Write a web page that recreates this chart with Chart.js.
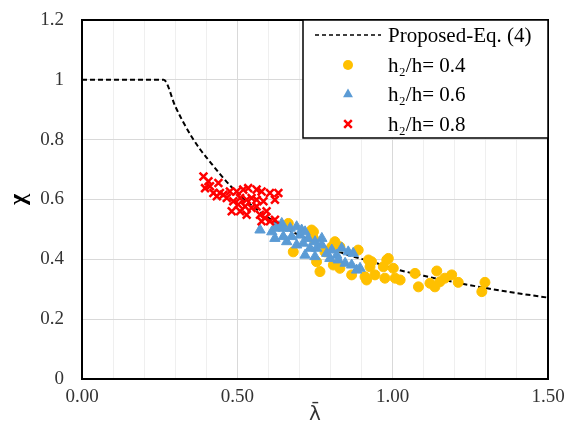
<!DOCTYPE html>
<html>
<head>
<meta charset="utf-8">
<script src="https://cdn.jsdelivr.net/npm/chart.js@4/dist/chart.umd.min.js"></script>
<style>
  body { margin: 0; background: #fff; }
  canvas { display: block; }
</style>
</head>
<body>
<canvas id="chart" width="569" height="442"></canvas>
<script>
// values (lambda, chi)
const curveLambda = [0, 0.263, 0.30, 0.322, 0.354, 0.38, 0.409, 0.445, 0.483, 0.55, 0.637, 0.75, 0.85, 0.949, 1.0, 1.1, 1.217, 1.35, 1.5];
const curveChi    = [1, 1, 0.912, 0.866, 0.808, 0.768, 0.730, 0.684, 0.640, 0.577, 0.515, 0.457, 0.417, 0.387, 0.370, 0.345, 0.320, 0.295, 0.272];

const h04Lambda = [0.664, 0.680, 0.739, 0.745, 0.745, 0.755, 0.766, 0.782, 0.804, 0.809, 0.814, 0.830, 0.830, 0.868, 0.889, 0.911, 0.916, 0.922, 0.927, 0.932, 0.943, 0.970, 0.975, 0.981, 0.986, 1.002, 1.008, 1.024, 1.072, 1.083, 1.120, 1.136, 1.142, 1.152, 1.168, 1.190, 1.211, 1.297, 1.287];
const h04Chi    = [0.520, 0.425, 0.498, 0.470, 0.492, 0.392, 0.359, 0.425, 0.442, 0.381, 0.459, 0.442, 0.370, 0.348, 0.431, 0.342, 0.331, 0.398, 0.375, 0.392, 0.348, 0.375, 0.337, 0.398, 0.403, 0.370, 0.337, 0.331, 0.353, 0.308, 0.320, 0.308, 0.361, 0.325, 0.337, 0.348, 0.323, 0.323, 0.292];

const h06Lambda = [0.573, 0.611, 0.632, 0.643, 0.621, 0.648, 0.659, 0.670, 0.691, 0.707, 0.702, 0.718, 0.691, 0.712, 0.728, 0.750, 0.772, 0.755, 0.772, 0.718, 0.750, 0.788, 0.804, 0.820, 0.836, 0.857, 0.825, 0.847, 0.868, 0.873, 0.884, 0.895, 0.798, 0.734, 0.675, 0.648, 0.621];
const h06Chi    = [0.498, 0.492, 0.509, 0.520, 0.470, 0.476, 0.459, 0.504, 0.509, 0.498, 0.481, 0.492, 0.448, 0.454, 0.470, 0.459, 0.470, 0.437, 0.448, 0.414, 0.409, 0.420, 0.431, 0.414, 0.437, 0.425, 0.398, 0.387, 0.381, 0.420, 0.364, 0.370, 0.403, 0.437, 0.476, 0.504, 0.504];

const h08Lambda = [0.391, 0.407, 0.439, 0.396, 0.412, 0.455, 0.444, 0.476, 0.498, 0.519, 0.535, 0.562, 0.578, 0.605, 0.632, 0.621, 0.509, 0.530, 0.546, 0.487, 0.503, 0.525, 0.546, 0.562, 0.482, 0.509, 0.530, 0.573, 0.589, 0.605, 0.621, 0.578, 0.594, 0.466, 0.434, 0.423, 0.562, 0.584];
const h08Chi    = [0.677, 0.661, 0.655, 0.638, 0.644, 0.616, 0.622, 0.627, 0.627, 0.633, 0.638, 0.633, 0.627, 0.622, 0.622, 0.599, 0.605, 0.599, 0.605, 0.594, 0.583, 0.577, 0.572, 0.577, 0.561, 0.561, 0.549, 0.549, 0.538, 0.527, 0.532, 0.527, 0.561, 0.605, 0.611, 0.622, 0.599, 0.594];

const xTicks = [0, 0.5, 1.0, 1.5];

function pts(xs, ys) {
    return xs.map((x, i) => ({ x: x, y: ys[i] }));
}

const serif = '"Liberation Serif", "Times New Roman", serif';

// frame round the plot and legend box inside it
const framePlugin = {
    id: 'frame',
    afterDraw(chart) {
        const ctx = chart.ctx;
        const a = chart.chartArea;
        ctx.save();
        ctx.strokeStyle = '#000';
        ctx.lineWidth = 2;
        ctx.strokeRect(a.left, a.top, a.right - a.left, a.bottom - a.top);

        // legend
        const bx = 303, by = a.top, bw = a.right - 303, bh = 118;
        ctx.fillStyle = '#fff';
        ctx.fillRect(bx, by, bw, bh);
        ctx.lineWidth = 1.5;
        ctx.strokeRect(bx, by, bw, bh);

        const ds = chart.data.datasets;
        const rows = [35, 65, 94, 124];
        const mx = 348;
        ctx.font = '21px ' + serif;
        ctx.textBaseline = 'middle';
        ctx.textAlign = 'left';
        ds.forEach((d, i) => {
            const y = rows[i];
            if (d.type === 'line') {
                ctx.strokeStyle = d.borderColor;
                ctx.lineWidth = 1.6;
                ctx.setLineDash([4, 3]);
                ctx.beginPath();
                ctx.moveTo(315, y);
                ctx.lineTo(381, y);
                ctx.stroke();
                ctx.setLineDash([]);
            } else {
                ctx.fillStyle = d.backgroundColor;
                ctx.strokeStyle = d.borderColor;
                ctx.beginPath();
                if (d.pointStyle === 'circle') {
                    ctx.arc(mx, y, 5, 0, Math.PI * 2);
                    ctx.fill();
                } else if (d.pointStyle === 'triangle') {
                    const r = 5.5;
                    ctx.moveTo(mx, y - r);
                    ctx.lineTo(mx + r * 0.9, y + r * 0.6);
                    ctx.lineTo(mx - r * 0.9, y + r * 0.6);
                    ctx.closePath();
                    ctx.fill();
                } else {
                    const r = 3.8;
                    ctx.lineWidth = 2.5;
                    ctx.moveTo(mx - r, y - r); ctx.lineTo(mx + r, y + r);
                    ctx.moveTo(mx + r, y - r); ctx.lineTo(mx - r, y + r);
                    ctx.stroke();
                }
            }
            ctx.fillStyle = '#000';
            ctx.fillText(d.label, 388, y + 1);
        });
        ctx.restore();
    }
};

new Chart(document.getElementById('chart'), {
    type: 'scatter',
    data: {
        datasets: [
            {
                type: 'line',
                label: 'Proposed-Eq. (4)',
                data: pts(curveLambda, curveChi),
                borderColor: '#000',
                borderWidth: 2,
                borderDash: [5, 3],
                pointRadius: 0,
                cubicInterpolationMode: 'monotone',
                fill: false,
                order: 4
            },
            {
                label: 'h\u2082/h= 0.4',
                data: pts(h04Lambda, h04Chi),
                pointStyle: 'circle',
                pointRadius: 5,
                backgroundColor: '#FFC000',
                borderColor: '#FFC000',
                borderWidth: 1,
                order: 3
            },
            {
                label: 'h\u2082/h= 0.6',
                data: pts(h06Lambda, h06Chi),
                pointStyle: 'triangle',
                pointRadius: 6,
                backgroundColor: '#5B9BD5',
                borderColor: '#5B9BD5',
                borderWidth: 1,
                order: 2
            },
            {
                label: 'h\u2082/h= 0.8',
                data: pts(h08Lambda, h08Chi),
                pointStyle: 'crossRot',
                pointRadius: 5.5,
                backgroundColor: '#FF0000',
                borderColor: '#FF0000',
                borderWidth: 2.5,
                order: 1
            }
        ]
    },
    options: {
        responsive: false,
        animation: false,
        layout: { padding: { top: 20, right: 21, left: 0, bottom: 0 } },
        plugins: {
            legend: { display: false },
            tooltip: { enabled: false }
        },
        scales: {
            x: {
                type: 'linear',
                min: 0,
                max: 1.5,
                afterFit(scale) {
                    scale.height = 63;
                    scale.paddingLeft = 0;
                    scale.paddingRight = 0;
                },
                border: { display: false },
                grid: {
                    drawTicks: false,
                    lineWidth: 1,
                    color: (c) => xTicks.some(t => Math.abs(t - c.tick.value) < 1e-6) ? '#d9d9d9' : '#efefef'
                },
                ticks: {
                    stepSize: 0.1,
                    autoSkip: false,
                    maxRotation: 0,
                    padding: 7,
                    color: '#333',
                    font: { family: serif, size: 19 },
                    callback: (v) => xTicks.some(t => Math.abs(t - v) < 1e-6) ? Number(v).toFixed(2) : ''
                },
                title: {
                    display: true,
                    text: 'λ\u0304',
                    color: '#333',
                    font: { family: '"DejaVu Sans", sans-serif', size: 20 },
                    padding: { top: 0, bottom: 15 }
                }
            },
            y: {
                min: 0,
                max: 1.2,
                afterFit(scale) {
                    scale.width = 82;
                    scale.paddingTop = 0;
                    scale.paddingBottom = 0;
                },
                border: { display: false },
                grid: { drawTicks: false, color: '#d9d9d9', lineWidth: 1 },
                ticks: {
                    stepSize: 0.2,
                    padding: 18,
                    color: '#333',
                    font: { family: serif, size: 19 },
                    callback: (v) => String(Number(Number(v).toFixed(1)))
                },
                title: {
                    display: true,
                    text: 'χ',
                    color: '#000',
                    font: { family: serif, size: 24, weight: 'bold' },
                    padding: { top: 4, bottom: 0 }
                }
            }
        }
    },
    plugins: [framePlugin]
});
</script>
</body>
</html>
